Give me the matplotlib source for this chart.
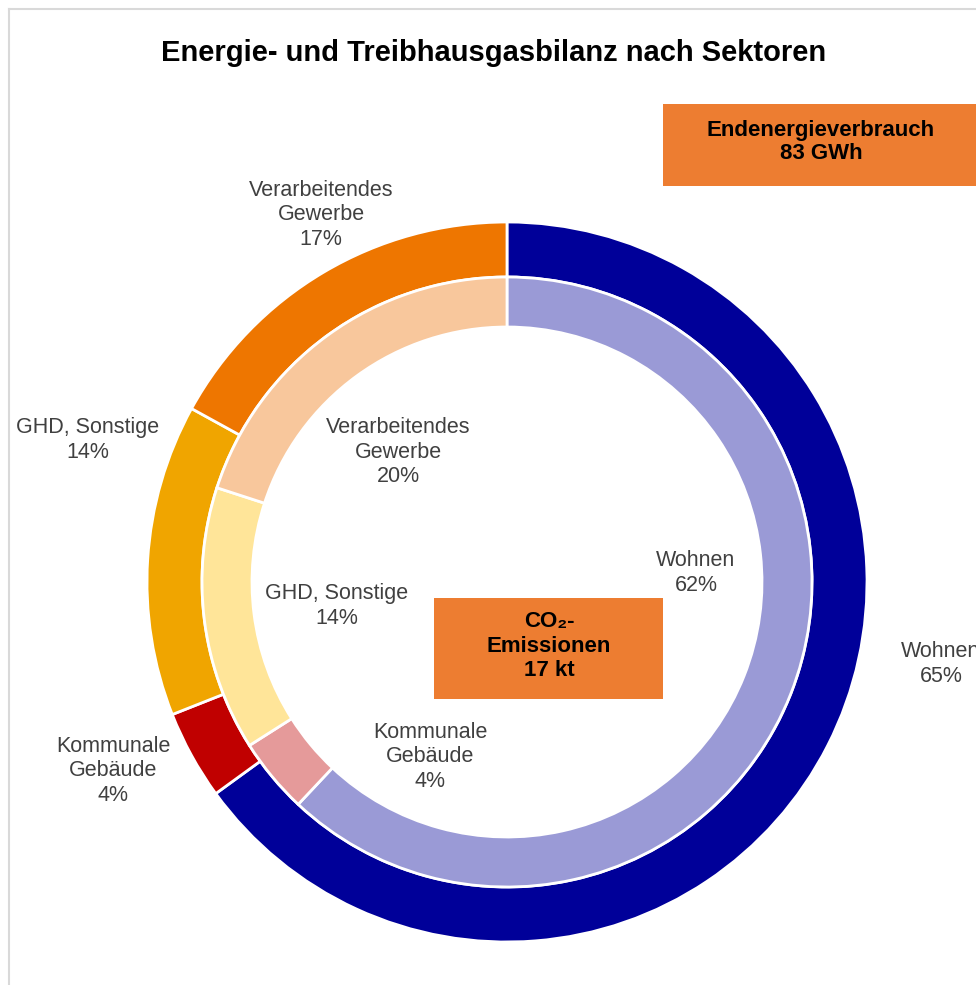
import matplotlib
matplotlib.use("Agg")
from matplotlib import pyplot as plt
from matplotlib.patches import Rectangle

plt.rcParams['font.family'] = ['Liberation Sans', 'DejaVu Sans']

# data
sectors = ["Wohnen", "Kommunale\nGebäude", "GHD, Sonstige", "Verarbeitendes\nGewerbe"]
energy_share = [65, 4, 14, 17]      # outer ring: Endenergieverbrauch
co2_share = [62, 4, 14, 20]         # inner ring: CO2-Emissionen
energy_colors = ["#000099", "#C00000", "#F0A500", "#EE7600"]
co2_colors = ["#9A9AD6", "#E59A9A", "#FFE599", "#F8C79C"]
energy_total = "83 GWh"
co2_total = "17 kt"

W, H = 976, 985
fig = plt.figure(figsize=(W / 100, H / 100), dpi=100)
ax = fig.add_axes([0, 0, 1, 1])

cx, cy = 507, H - 582
r_out = 360

ax.pie(energy_share, colors=energy_colors, radius=r_out, center=(cx, cy),
       startangle=90, counterclock=False,
       wedgeprops=dict(width=55, edgecolor="white", linewidth=2))
ax.pie(co2_share, colors=co2_colors, radius=r_out - 55, center=(cx, cy),
       startangle=90, counterclock=False,
       wedgeprops=dict(width=50, edgecolor="white", linewidth=2))

ax.set_xlim(0, W)
ax.set_ylim(0, H)
ax.set_aspect("auto")
ax.axis("off")

lab = dict(fontsize=15.5, color="#404040", ha="center", va="center", linespacing=1.2)

# outer labels
ax.text(321, H - 215, f"{sectors[3]}\n{energy_share[3]}%", **lab)
ax.text(88, H - 440, f"{sectors[2]}\n{energy_share[2]}%", **lab)
ax.text(113, H - 771, f"{sectors[1]}\n{energy_share[1]}%", **lab)
ax.text(941, H - 664, f"{sectors[0]}\n{energy_share[0]}%", **lab)

# inner labels
ax.text(398, H - 452, f"{sectors[3]}\n{co2_share[3]}%", **lab)
ax.text(337, H - 606, f"{sectors[2]}\n{co2_share[2]}%", **lab)
ax.text(430, H - 757, f"{sectors[1]}\n{co2_share[1]}%", **lab)
ax.text(696, H - 573, f"{sectors[0]}\n{co2_share[0]}%", **lab)

# boxes
box_color = "#ED7D31"
ax.add_patch(Rectangle((663, H - 186), 400, 82, facecolor=box_color, edgecolor="none"))
ax.text(821, H - 142, f"Endenergieverbrauch\n{energy_total}", fontsize=16, fontweight="bold",
        ha="center", va="center", linespacing=1.15, color="black")

ax.add_patch(Rectangle((434, H - 699), 229, 101, facecolor=box_color, edgecolor="none"))
ax.text(549, H - 646, f"CO\u2082-\nEmissionen\n{co2_total}", fontsize=16, fontweight="bold",
        ha="center", va="center", linespacing=1.2, color="black")

# title
ax.text(494, H - 53, "Energie- und Treibhausgasbilanz nach Sektoren", fontsize=21,
        fontweight="bold", ha="center", va="center", color="black")

# frame (left and top edges visible)
fig.add_artist(plt.Line2D([8.5 / W, 8.5 / W], [0, 1 - 8.5 / H], color="#D9D9D9", lw=1.5))
fig.add_artist(plt.Line2D([8.5 / W, 1], [1 - 8.5 / H, 1 - 8.5 / H], color="#D9D9D9", lw=1.5))

fig.savefig("out.png", dpi=100)
